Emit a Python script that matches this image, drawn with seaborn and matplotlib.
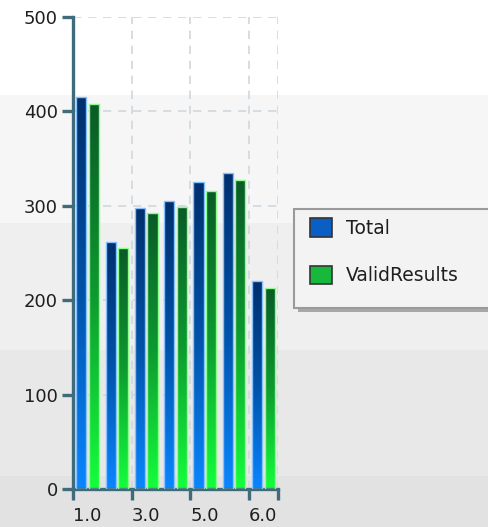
import numpy as np
import pandas as pd
import matplotlib
matplotlib.use("Agg")
import matplotlib.pyplot as plt
from matplotlib.patches import Rectangle, Patch
from matplotlib.colors import LinearSegmentedColormap
import seaborn as sns

# --------- data ---------
groups = [1, 2, 3, 4, 5, 6, 7]
total = [415, 262, 298, 305, 325, 335, 220]
valid_results = [408, 255, 292, 299, 316, 327, 213]
series_names = ["Total", "ValidResults"]
tick_labels = ["1.0", "3.0", "5.0", "6.0", ""]
y_ticks = [0, 100, 200, 300, 400, 500]
# -----------------------------------------------

W, H = 489, 527
AXIS_COL = "#3f6b7a"

df = pd.DataFrame({
    "group": groups * 2,
    "count": total + valid_results,
    "series": [series_names[0]] * len(groups) + [series_names[1]] * len(groups),
})

sns.set_style("white")
plt.rcParams["font.family"] = ["DejaVu Sans"]

fig = plt.figure(figsize=(W / 100, H / 100), dpi=100)
fig.patch.set_facecolor("white")

# stepped grey background bands (pixel rows from the top)
bands = [(0, 95, "#ffffff"), (95, 223, "#f6f6f6"), (223, 350, "#efefef"),
         (350, 476, "#e8e8e8"), (476, 527, "#e2e2e2")]
for top, bot, col in bands:
    fig.patches.append(Rectangle((0, 1 - bot / H), 1, (bot - top) / H,
                                 transform=fig.transFigure, facecolor=col,
                                 edgecolor="none", zorder=-10))

ax = fig.add_axes([73 / W, (H - 489) / H, (278 - 73) / W, (489 - 17) / H])
ax.set_facecolor("none")

sns.barplot(data=df, x="group", y="count", hue="series",
            palette=["#0058b8", "#14a83a"], width=0.86, gap=0.2,
            legend=False, ax=ax)

cmaps = {
    0: LinearSegmentedColormap.from_list("blu", ["#002f6c", "#0052a8", "#0a86ff"]),
    1: LinearSegmentedColormap.from_list("grn", ["#0b5a28", "#0e9a30", "#14ff3c"]),
}
edges = {0: "#86c0ff", 1: "#8cff8c"}
grad = np.linspace(0, 1, 256).reshape(-1, 1)
bars = list(ax.patches)
n = len(groups)
for i, p in enumerate(bars):
    k = 0 if i < n else 1
    x0, w, h = p.get_x(), p.get_width(), p.get_height()
    im = ax.imshow(grad, cmap=cmaps[k], extent=[x0, x0 + w, 0, h],
                   origin="upper", aspect="auto", zorder=2, interpolation="bilinear")
    im.set_clip_path(p)
    p.set_facecolor("none")
    p.set_edgecolor(edges[k])
    p.set_linewidth(1.0)
    p.set_zorder(3)

ax.set_xlim(-0.5, 6.5)
ax.set_ylim(0, 500)
ax.set_xticks([-0.5, 1.5, 3.5, 5.5, 6.5])
ax.set_xticklabels(tick_labels, ha="left")
ax.set_yticks(y_ticks)
ax.set_xlabel("")
ax.set_ylabel("")

ax.grid(True, color="#cfd7de", linestyle=(0, (5, 4)), linewidth=1.2)
ax.set_axisbelow(True)

for s in ["top", "right"]:
    ax.spines[s].set_visible(False)
for s in ["left", "bottom"]:
    ax.spines[s].set_color(AXIS_COL)
    ax.spines[s].set_linewidth(2.4)
ax.tick_params(axis="both", direction="out", length=8, width=2.4,
               color=AXIS_COL, labelsize=13, labelcolor="#1e1e1e", pad=3,
               bottom=True, left=True)
ax.tick_params(axis="x", pad=5)

# legend box running off the right edge, with a drop shadow
lx0, ly0, ly1 = 294, 209, 308
fig.patches.append(Rectangle(((lx0 + 4) / W, 1 - (ly1 + 4) / H), 1, (ly1 - ly0) / H,
                             transform=fig.transFigure, facecolor="#a8a8a8",
                             edgecolor="none", zorder=1))
fig.patches.append(Rectangle((lx0 / W, 1 - ly1 / H), 1, (ly1 - ly0) / H,
                             transform=fig.transFigure, facecolor="#f3f3f3",
                             edgecolor="#9a9a9a", linewidth=1.5, zorder=2))

handles = [Patch(facecolor="#0a5ec4", edgecolor="#333333", linewidth=1.2),
           Patch(facecolor="#18b83c", edgecolor="#333333", linewidth=1.2)]
leg = fig.legend(handles, series_names, loc="upper left",
                 bbox_to_anchor=(310 / W, 1 - 218 / H), frameon=False,
                 fontsize=13.5, handlelength=1.15, handleheight=1.15,
                 handletextpad=0.75, labelspacing=1.5, borderpad=0,
                 borderaxespad=0)
leg.set_zorder(5)
for t in leg.get_texts():
    t.set_color("#1e1e1e")

fig.savefig("out.png", dpi=100)
